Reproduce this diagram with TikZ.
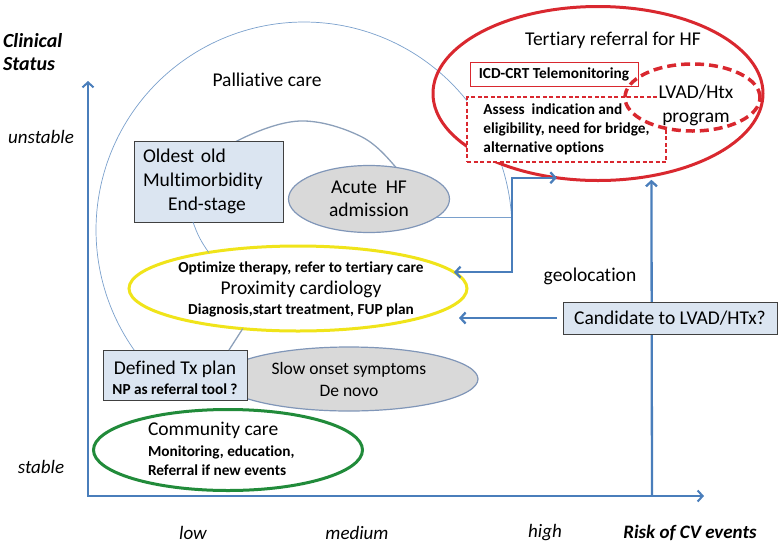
\documentclass[tikz,border=0pt]{standalone}
\usepackage{fontspec}
\setmainfont{Carlito}[Ligatures=NoCommon]
\usetikzlibrary{arrows.meta,shapes.geometric,calc}
\definecolor{axisblue}{HTML}{4A7EBB}
\definecolor{boxfill}{HTML}{DBE5F1}
\definecolor{boxline}{HTML}{404040}
\definecolor{grayfill}{HTML}{D9D9D9}
\definecolor{grayline}{HTML}{8096B8}
\definecolor{thinblue}{HTML}{7AA0CC}
\definecolor{arcgray}{HTML}{8CA0BA}
\definecolor{yellowline}{HTML}{F0E41A}
\definecolor{redline}{HTML}{D9282F}
\definecolor{greenline}{HTML}{218B3A}
\begin{document}
\begin{tikzpicture}[x=1pt,y=-1pt,
  every node/.style={inner sep=0pt, outer sep=0pt},
  lbl/.style={font=\fontsize{19.5}{24}\selectfont},
  sbold/.style={font=\fontsize{15.3}{19}\selectfont\bfseries},
  axlbl/.style={font=\fontsize{19}{23}\selectfont\itshape},
  bluebox/.style={rectangle, draw=boxline, fill=boxfill, line width=1pt},
  grayell/.style={ellipse, draw=grayline, fill=grayfill, line width=1.2pt},
  barb/.style={-{Straight Barb[length=5pt,width=11pt]}},
  axisline/.style={draw=axisblue, line width=2pt},
  barrow/.style={draw=axisblue, line width=2.3pt},
  thinline/.style={draw=thinblue, line width=0.7pt},
  arcline/.style={draw=arcgray, line width=1.3pt},
]
\useasboundingbox (0,0) rectangle (780,547);

% large thin arc (palliative care)
\draw[thinline] plot[domain=3.6:218, samples=140, variable=\t] ({304+208*cos(\t)}, {230-208*sin(\t)});
% inner arc
\draw[arcline] plot[smooth, tension=0.6] coordinates {(205,170) (237,141) (300,121) (362,137) (400,172) (412,192)};

% axes
\coordinate (O) at (88,496);
\coordinate (xend) at (704,496);
\coordinate (yend) at (88,81);
\draw[axisline, {Straight Barb[length=5pt,width=11pt]}-{Straight Barb[length=5pt,width=11pt]}] (yend) -- (O) -- (xend);
\coordinate (vbase) at (652,496);

% tertiary referral
\node[ellipse, draw=redline, line width=3pt, minimum width=330pt, minimum height=174pt] (tert) at (598,93.5) {};
\draw[barrow, barb, shorten >=4pt] (vbase) -- (tert.-57);
\node[rectangle, draw=redline, fill=white, line width=1.5pt, dash pattern=on 4pt off 2.5pt, minimum width=199pt, minimum height=65pt, align=left, sbold] (assess) at (566.5,129.5) {Assess\ \ indication and\\eligibility, need for bridge,\\alternative options};
\node[rectangle, draw=redline, fill=white, line width=1pt, minimum width=168pt, minimum height=24pt, sbold] (icd) at (554,74) {ICD-CRT Telemonitoring};
\node[lbl, fill=white, inner sep=2pt, align=center] (lvadt) at (696,105) {LVAD/Htx\\program};
\node[ellipse, draw=redline, line width=3.5pt, dash pattern=on 9pt off 5pt, minimum width=135pt, minimum height=67pt] (lvad) at (692.5,97.5) {};

% left column shapes
\node[bluebox, minimum width=149pt, minimum height=81pt, text width=131pt, inner xsep=9pt, align=left, lbl] (old) at (208.5,181.5) {Oldest old\\Multimorbidity\\\hspace*{25pt}End-stage};
\node[grayell, minimum width=161pt, minimum height=67pt, align=center, lbl, font=\fontsize{19.5}{23}\selectfont] (acute) at (369,199) {Acute\ \ HF\\admission};
\node[ellipse, draw=yellowline, fill=white, line width=3pt, minimum width=338pt, minimum height=85pt] (prox) at (298,288.5) {};
\node[grayell, minimum width=258pt, minimum height=64pt, align=center, font=\fontsize{17.5}{22}\selectfont] (slow) at (349,379) {Slow onset symptoms\\De novo};
\node[bluebox, minimum width=144pt, minimum height=50pt] (tx) at (175,375) {};
\node[ellipse, draw=greenline, fill=white, line width=3pt, minimum width=269pt, minimum height=81pt] (comm) at (228,450) {};
\node[bluebox, minimum width=214pt, minimum height=32pt, lbl] (cand) at (670,318) {Candidate to LVAD/HTx?};

% small connecting lines
\draw[thinline] ($(old.south west)!0.396!(old.south east)$) to[bend right=8] (prox.158);
\draw[arcline] (prox.216) -- ($(tx.north west)!0.875!(tx.north east)$);

% blue connectors
\coordinate (elbx) at ($(tert.244)+(-45,0)$);
\draw[thinline] (acute.-15) -- (acute.-15 -| elbx);
\draw[barrow, {Straight Barb[length=5pt,width=11pt]}-{Straight Barb[length=5pt,width=11pt]}] (prox.6) -| (elbx) -- (tert.244);
\draw[barrow, barb, shorten <=6pt, shorten >=-8pt] (cand.west) -- (cand.west -| prox.east);

% texts
\node[anchor=west, align=left, font=\fontsize{20}{23}\selectfont\bfseries\itshape] (clin) at (3,52) {Clinical\\Status};
\node[axlbl] (unst) at (41,137) {unstable};
\node[axlbl] (stab) at (41,467) {stable};
\node[axlbl] (low) at (193,533) {low};
\node[axlbl] (med) at (357,533) {medium};
\node[axlbl] (high) at (545,533) {high};
\node[font=\fontsize{19}{23}\selectfont\bfseries\itshape] (risk) at (690,533) {Risk of CV events};
\node[lbl] (pall) at (267,80) {Palliative care};
\node[lbl] (tertt) at (613,40) {Tertiary referral for HF};
\node[lbl] (geo) at (590,276) {geolocation};
\node[sbold] (prox1) at (301,268) {Optimize therapy, refer to tertiary care};
\node[lbl] (prox2) at (301,289) {Proximity cardiology};
\node[sbold] (prox3) at (301,310) {Diagnosis,start treatment, FUP plan};
\node[lbl] (tx1) at (175,369) {Defined Tx plan};
\node[sbold] (tx2) at (175,389) {NP as referral tool ?};
\node[lbl, anchor=west] (comm1) at (148,430) {Community care};
\node[sbold, anchor=west] (comm2) at (148,452) {Monitoring, education,};
\node[sbold, anchor=west] (comm3) at (148,470) {Referral if new events};
\end{tikzpicture}
\end{document}
